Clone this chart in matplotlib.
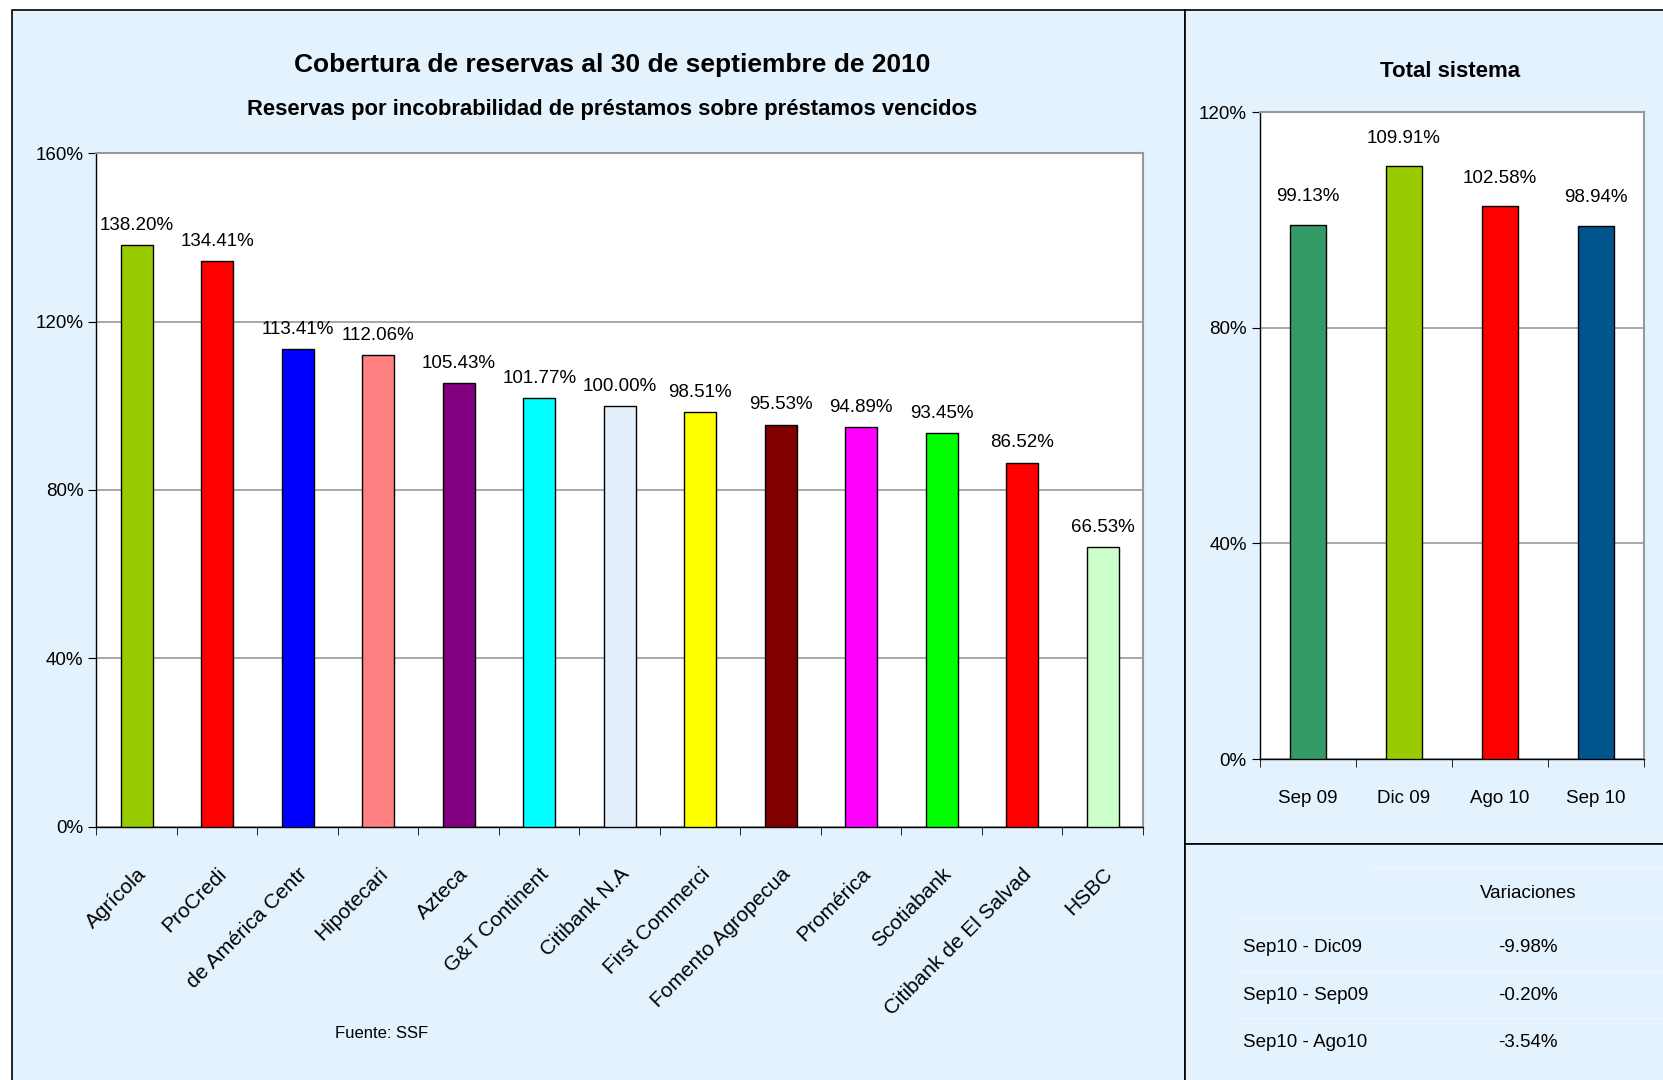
import matplotlib
matplotlib.use("Agg")
import matplotlib.pyplot as plt  # noqa: E402
from matplotlib.patches import Rectangle  # noqa: E402
from matplotlib.ticker import FuncFormatter  # noqa: E402

plt.rcParams["font.family"] = ["Liberation Sans", "DejaVu Sans"]

# Bancos (labels are clipped in the original chart)
bancos = ["Agrícola", "ProCredi", "de América Centr", "Hipotecari", "Azteca",
          "G&T Continent", "Citibank N.A", "First Commerci", "Fomento Agropecua",
          "Promérica", "Scotiabank", "Citibank de El Salvad", "HSBC"]
cobertura = [138.20, 134.41, 113.41, 112.06, 105.43, 101.77, 100.00,
             98.51, 95.53, 94.89, 93.45, 86.52, 66.53]
colores_bancos = ["#99CC00", "#FF0000", "#0000FF", "#FF8080", "#800080",
                  "#00FFFF", "#E3F0FC", "#FFFF00", "#800000", "#FF00FF",
                  "#00FF00", "#FF0000", "#CCFFCC"]

periodos = ["Sep 09", "Dic 09", "Ago 10", "Sep 10"]
total_sistema = [99.13, 109.91, 102.58, 98.94]
colores_total = ["#339966", "#99CC00", "#FF0000", "#00558F"]

var_labels = ["Sep10 - Dic09", "Sep10 - Sep09", "Sep10 - Ago10"]
var_values = ["-9.98%", "-0.20%", "-3.54%"]

BG = "#E4F2FD"
FS = 13.5

fig = plt.figure(figsize=(16.63, 10.80), dpi=100)
fig.patch.set_facecolor("white")

# panels
for (x, y, w, h) in [(0.0072, -0.01, 0.7054, 1.0007),
                     (0.7126, 0.2185, 0.30, 0.7722),
                     (0.7126, -0.01, 0.30, 0.2285)]:
    fig.add_artist(Rectangle((x, y), w, h, transform=fig.transFigure,
                             facecolor=BG, edgecolor="black", lw=1.2, zorder=0))


def style_axes(ax, n, ymax, step):
    ax.set_facecolor("white")
    ax.set_xlim(-0.5, n - 0.5)
    ax.set_ylim(0, ymax)
    ax.set_yticks(range(0, ymax + 1, step))
    ax.yaxis.set_major_formatter(FuncFormatter(lambda v, p: f"{v:.0f}%"))
    ax.grid(axis="y", color="#999999", lw=1.2, zorder=0)
    ax.set_axisbelow(True)
    for s in ["top", "right"]:
        ax.spines[s].set_color("#999999")
        ax.spines[s].set_linewidth(1.5)
    for s in ["left", "bottom"]:
        ax.spines[s].set_color("black")
        ax.spines[s].set_linewidth(1.0)
    ax.set_xticks([i - 0.5 for i in range(n + 1)], minor=True)
    ax.set_xticks(range(n))
    ax.tick_params(axis="x", which="major", length=0)
    ax.tick_params(axis="x", which="minor", length=6, direction="out")
    ax.tick_params(axis="y", length=6, direction="out", labelsize=FS)


# left chart
ax = fig.add_axes([0.058, 0.2343, 0.6293, 0.624])
style_axes(ax, len(bancos), 160, 40)
ax.bar(range(len(bancos)), cobertura, width=0.4, color=colores_bancos,
       edgecolor="black", lw=1.0, zorder=3)
for i, v in enumerate(cobertura):
    ax.annotate(f"{v:.2f}%", (i, v), xytext=(0, 8), textcoords="offset points",
                ha="center", va="bottom", fontsize=FS)
ax.set_xticklabels(bancos, rotation=45, ha="right", rotation_mode="anchor",
                   fontsize=15)
ax.tick_params(axis="x", which="major", pad=27)

fig.text(0.368, 0.940, "Cobertura de reservas al 30 de septiembre de 2010",
         ha="center", va="center", fontsize=19, fontweight="bold")
fig.text(0.368, 0.899, "Reservas por incobrabilidad de préstamos sobre préstamos vencidos",
         ha="center", va="center", fontsize=15.8, fontweight="bold")
fig.text(0.2297, 0.0426, "Fuente: SSF", ha="center", va="center", fontsize=12)

# right chart
ax2 = fig.add_axes([0.7577, 0.2972, 0.2309, 0.599])
style_axes(ax2, len(periodos), 120, 40)
ax2.bar(range(len(periodos)), total_sistema, width=0.38, color=colores_total,
        edgecolor="black", lw=1.0, zorder=3)
for i, v in enumerate(total_sistema):
    ax2.annotate(f"{v:.2f}%", (i, v), xytext=(0, 14), textcoords="offset points",
                 ha="center", va="bottom", fontsize=FS)
ax2.set_xticklabels(periodos, fontsize=FS)
ax2.tick_params(axis="x", which="major", pad=22)
fig.text(0.872, 0.934, "Total sistema", ha="center", va="center",
         fontsize=16, fontweight="bold")

# variaciones table
fig.text(0.919, 0.173, "Variaciones", ha="center", va="center", fontsize=FS)
row_y = [0.123, 0.0787, 0.0343]
for lab, val, y in zip(var_labels, var_values, row_y):
    fig.text(0.7474, y, lab, ha="left", va="center", fontsize=FS)
    fig.text(0.919, y, val, ha="center", va="center", fontsize=FS)
for y in [0.197, 0.150, 0.101, 0.057]:
    fig.add_artist(plt.Line2D([0.745 if y < 0.16 else 0.824, 1.0], [y, y],
                              transform=fig.transFigure, color="#EEF7FF", lw=1.0))

fig.savefig("out.png", dpi=100)
